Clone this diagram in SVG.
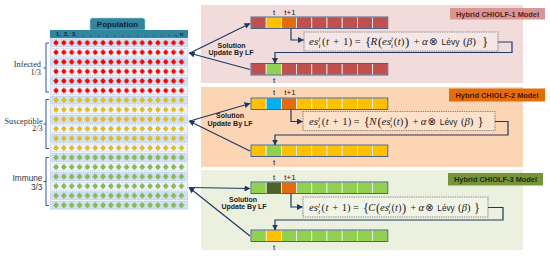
<svg xmlns="http://www.w3.org/2000/svg" width="550" height="256" viewBox="0 0 550 256">
<style>
.sans{font-family:"Liberation Sans",Arial,sans-serif}
.serif{font-family:"Liberation Serif","Times New Roman",serif}
.rowA{fill:#d3e1f3;stroke:#8eaad6;stroke-width:0.6;stroke-dasharray:1 0.8}
.rowB{fill:#f1f5fb;stroke:#8eaad6;stroke-width:0.6;stroke-dasharray:1 0.8}
.brace{fill:none;stroke:#2f5496;stroke-width:1}
.lbl{font-size:8.3px;fill:#333;text-anchor:end}
.tl{font-family:"Liberation Sans",Arial,sans-serif;font-size:8px;fill:#222;text-anchor:middle}
.cell{stroke:#eef2f8;stroke-width:0.8}
.rowbox{fill:none;stroke:#3b5480;stroke-width:0.9}
.R{fill:#c0504d}.Y{fill:#ffc000}.O{fill:#e46c0a}.G{fill:#92d050}.B{fill:#00b0f0}.D{fill:#4f6228}
.conn{fill:none;stroke:#1f3864;stroke-width:1.2}
.fbox{fill:#ffffff;fill-opacity:0.3;stroke:#8c8c8c;stroke-width:1.1;stroke-dasharray:1.4 0.9}
.fm{font-family:"Liberation Serif","DejaVu Serif",serif;font-style:italic;font-size:11px;fill:#222}
.up{font-style:normal}
.sm{font-size:7px}
.bp{font-style:normal;font-size:13px}
.ot{font-family:"DejaVu Sans",sans-serif;font-style:normal;font-size:10px}
.lv{font-family:"Liberation Sans",Arial,sans-serif;font-style:normal;font-size:8.5px}
.sol{font-family:"Liberation Sans",Arial,sans-serif;font-size:7px;font-weight:bold;fill:#1a1a1a;text-anchor:middle}
.tag{font-family:"Liberation Sans",Arial,sans-serif;font-size:7px;font-weight:bold;text-anchor:middle}
</style>
<defs>
<marker id="ah" viewBox="0 0 6 6" refX="5.5" refY="3" markerWidth="6" markerHeight="6" markerUnits="userSpaceOnUse" orient="auto">
<path d="M0,0 L6,3 L0,6 Z" fill="#1f3864"/>
</marker>
<pattern id="pR" patternUnits="userSpaceOnUse" x="52.08" y="38" width="7.84" height="9.556">
<path d="M3.92,2 L6.7,4.78 L3.92,7.56 L1.14,4.78 Z" fill="#d40000"/>
<circle cx="3.92" cy="4.78" r="1.95" fill="#ff0000"/>
</pattern>
<pattern id="pS" patternUnits="userSpaceOnUse" x="52.08" y="38" width="7.84" height="9.556">
<path d="M3.92,2 L6.7,4.78 L3.92,7.56 L1.14,4.78 Z" fill="#8fb550"/>
<circle cx="3.92" cy="4.78" r="1.95" fill="#f5b800"/>
</pattern>
<pattern id="pI" patternUnits="userSpaceOnUse" x="52.08" y="38" width="7.84" height="9.556">
<path d="M3.92,2 L6.7,4.78 L3.92,7.56 L1.14,4.78 Z" fill="#5b8f3a"/>
<circle cx="3.92" cy="4.78" r="1.95" fill="#86c04a"/>
</pattern>
</defs>
<rect width="550" height="256" fill="#ffffff"/>

<g id="population">
<path d="M90 30 V20.5 Q90 18 92.5 18 H142.5 Q145 18 145 20.5 V30 Z" fill="#31859c" stroke="#a5d5e2" stroke-width="0.6"/>
<text class="sans" x="117.5" y="27.3" font-size="8" font-weight="bold" fill="#10253f" text-anchor="middle">Population</text>
<rect x="50" y="30" width="138" height="8" fill="#31859c"/>
<text class="sans" y="36" font-size="5.5" font-weight="bold" fill="#10253f"><tspan x="56">1,</tspan><tspan x="64">2,</tspan><tspan x="72">3,</tspan><tspan x="82 90 98 106 114 122 129 137 145 153 161 168">............</tspan><tspan x="174">.,</tspan><tspan x="180">n</tspan></text>
<rect class="rowA" x="50.5" y="38.8" width="137" height="8"/>
<rect class="rowB" x="50.5" y="48.36" width="137" height="8"/>
<rect class="rowA" x="50.5" y="57.91" width="137" height="8"/>
<rect class="rowB" x="50.5" y="67.47" width="137" height="8"/>
<rect class="rowA" x="50.5" y="77.02" width="137" height="8"/>
<rect class="rowB" x="50.5" y="86.58" width="137" height="8"/>
<rect class="rowA" x="50.5" y="96.13" width="137" height="8"/>
<rect class="rowB" x="50.5" y="105.69" width="137" height="8"/>
<rect class="rowA" x="50.5" y="115.24" width="137" height="8"/>
<rect class="rowB" x="50.5" y="124.8" width="137" height="8"/>
<rect class="rowA" x="50.5" y="134.36" width="137" height="8"/>
<rect class="rowB" x="50.5" y="143.91" width="137" height="8"/>
<rect class="rowA" x="50.5" y="153.47" width="137" height="8"/>
<rect class="rowB" x="50.5" y="163.02" width="137" height="8"/>
<rect class="rowA" x="50.5" y="172.58" width="137" height="8"/>
<rect class="rowB" x="50.5" y="182.13" width="137" height="8"/>
<rect class="rowA" x="50.5" y="191.69" width="137" height="8"/>
<rect class="rowA" x="50.5" y="201.24" width="137" height="8"/>
<rect x="52.08" y="38" width="133.3" height="57.33" fill="url(#pR)"/>
<rect x="52.08" y="95.33" width="133.3" height="57.34" fill="url(#pS)"/>
<rect x="52.08" y="152.67" width="133.3" height="57.33" fill="url(#pI)"/>
</g>

<g id="group-infected">
<path class="brace" d="M49 43 H46 V68 H43.5 M46 68 V92 H49"/>
<text class="serif lbl" x="41" y="66.5">Infected</text>
<text class="serif lbl" x="41" y="75">1/3</text>
</g>
<g id="group-susceptible">
<path class="brace" d="M49 99.5 H46 V124 H43.5 M46 124 V148.5 H49"/>
<text class="serif lbl" x="42.7" y="123.5">Susceptible</text>
<text class="serif lbl" x="42.7" y="131">2/3</text>
</g>
<g id="group-immune">
<path class="brace" d="M49 157.5 H46 V181.5 H43.5 M46 181.5 V205.5 H49"/>
<text class="sans lbl" x="42.5" y="180.5" font-size="7.8">Immune</text>
<text class="sans lbl" x="42.5" y="189.5" font-size="7.8">3/3</text>
</g>

<g id="panel1">
<rect x="201" y="5" width="322" height="78" fill="#f2dcdb"/>
<rect x="450" y="8" width="95" height="11.5" fill="#d99694"/>
<text class="tag" x="497.5" y="16.6" fill="#5a1e1e" textLength="83" lengthAdjust="spacingAndGlyphs">Hybrid CHIOLF-1 Model</text>
<text class="tl" x="274" y="15">t</text>
<text class="tl" x="290" y="15">t+1</text>
<g transform="translate(251,17)">
<rect class="cell R" x="0" width="15.2" height="11.5"/><rect class="cell Y" x="15.2" width="15.2" height="11.5"/><rect class="cell O" x="30.4" width="15.2" height="11.5"/><rect class="cell R" x="45.6" width="15.2" height="11.5"/><rect class="cell R" x="60.8" width="15.2" height="11.5"/><rect class="cell R" x="76" width="15.2" height="11.5"/><rect class="cell R" x="91.2" width="15.2" height="11.5"/><rect class="cell R" x="106.4" width="15.2" height="11.5"/><rect class="cell R" x="121.6" width="15.2" height="11.5"/>
<rect class="rowbox" width="136.8" height="11.5"/>
</g>
<g transform="translate(251,63.5)">
<rect class="cell R" x="0" width="15.2" height="11.5"/><rect class="cell G" x="15.2" width="15.2" height="11.5"/><rect class="cell R" x="30.4" width="15.2" height="11.5"/><rect class="cell R" x="45.6" width="15.2" height="11.5"/><rect class="cell R" x="60.8" width="15.2" height="11.5"/><rect class="cell R" x="76" width="15.2" height="11.5"/><rect class="cell R" x="91.2" width="15.2" height="11.5"/><rect class="cell R" x="106.4" width="15.2" height="11.5"/><rect class="cell R" x="121.6" width="15.2" height="11.5"/>
<rect class="rowbox" width="136.8" height="11.5"/>
</g>
<text class="tl" x="274" y="82.5">t</text>
<rect class="fbox" x="304" y="32" width="194" height="19"/>
<text class="fm" transform="translate(0,45)"><tspan x="309" y="0">es</tspan><tspan class="sm" x="318.5" y="-4.5">j</tspan><tspan class="sm" x="318.5" y="2.5">i</tspan><tspan class="up" x="322" y="0">(</tspan><tspan x="326">t</tspan><tspan class="up" x="333">+</tspan><tspan class="up" x="343">1)</tspan><tspan class="up" x="354.5">=</tspan><tspan class="bp" x="365" y="1">{</tspan><tspan x="370.5" y="0">R</tspan><tspan class="bp" x="378" y="1">(</tspan><tspan x="382" y="0">es</tspan><tspan class="sm" x="391" y="-4.5">j</tspan><tspan class="sm" x="391" y="2.5">i</tspan><tspan class="up" x="394" y="0">(</tspan><tspan>t</tspan><tspan class="up">)</tspan><tspan class="bp" x="405" y="1">)</tspan><tspan class="up" x="413.5" y="0">+</tspan><tspan x="422">α</tspan><tspan class="ot" x="429">⊗</tspan><tspan class="lv" x="441.5">Lévy</tspan><tspan class="up" x="463">(</tspan><tspan>β</tspan><tspan class="up">)</tspan><tspan class="bp" x="482" y="1">}</tspan></text>
<text class="sol" x="231.5" y="47.5">Solution</text>
<text class="sol" x="231" y="54.5">Update By LF</text>
</g>

<g id="panel2">
<rect x="201" y="87" width="322" height="80" fill="#fcd5b4"/>
<rect x="449" y="88.5" width="96" height="13" fill="#e46c0a"/>
<text class="tag" x="497" y="97.6" fill="#3f1a00" textLength="83" lengthAdjust="spacingAndGlyphs">Hybrid CHIOLF-2 Model</text>
<text class="tl" x="274" y="95">t</text>
<text class="tl" x="290" y="95">t+1</text>
<g transform="translate(251,98)">
<rect class="cell Y" x="0" width="15.2" height="11.5"/><rect class="cell B" x="15.2" width="15.2" height="11.5"/><rect class="cell O" x="30.4" width="15.2" height="11.5"/><rect class="cell Y" x="45.6" width="15.2" height="11.5"/><rect class="cell Y" x="60.8" width="15.2" height="11.5"/><rect class="cell Y" x="76" width="15.2" height="11.5"/><rect class="cell Y" x="91.2" width="15.2" height="11.5"/><rect class="cell Y" x="106.4" width="15.2" height="11.5"/><rect class="cell Y" x="121.6" width="15.2" height="11.5"/>
<rect class="rowbox" width="136.8" height="11.5"/>
</g>
<g transform="translate(251,145)">
<rect class="cell Y" x="0" width="15.2" height="11.5"/><rect class="cell G" x="15.2" width="15.2" height="11.5"/><rect class="cell Y" x="30.4" width="15.2" height="11.5"/><rect class="cell Y" x="45.6" width="15.2" height="11.5"/><rect class="cell Y" x="60.8" width="15.2" height="11.5"/><rect class="cell Y" x="76" width="15.2" height="11.5"/><rect class="cell Y" x="91.2" width="15.2" height="11.5"/><rect class="cell Y" x="106.4" width="15.2" height="11.5"/><rect class="cell Y" x="121.6" width="15.2" height="11.5"/>
<rect class="rowbox" width="136.8" height="11.5"/>
</g>
<text class="tl" x="274" y="165">t</text>
<rect class="fbox" x="303" y="111.5" width="192" height="19"/>
<text class="fm" transform="translate(309,125) scale(0.98,1) translate(-309,0)"><tspan x="309" y="0">es</tspan><tspan class="sm" x="318.5" y="-4.5">j</tspan><tspan class="sm" x="318.5" y="2.5">i</tspan><tspan class="up" x="322" y="0">(</tspan><tspan x="326">t</tspan><tspan class="up" x="333">+</tspan><tspan class="up" x="343">1)</tspan><tspan class="up" x="354.5">=</tspan><tspan class="bp" x="365" y="1">{</tspan><tspan x="370.5" y="0">N</tspan><tspan class="bp" x="379" y="1">(</tspan><tspan x="383" y="0">es</tspan><tspan class="sm" x="392" y="-4.5">j</tspan><tspan class="sm" x="392" y="2.5">i</tspan><tspan class="up" x="395" y="0">(</tspan><tspan>t</tspan><tspan class="up">)</tspan><tspan class="bp" x="406" y="1">)</tspan><tspan class="up" x="414.5" y="0">+</tspan><tspan x="423">α</tspan><tspan class="ot" x="430">⊗</tspan><tspan class="lv" x="442.5">Lévy</tspan><tspan class="up" x="464">(</tspan><tspan>β</tspan><tspan class="up">)</tspan><tspan class="bp" x="481" y="1">}</tspan></text>
<text class="sol" x="230" y="118.3">Solution</text>
<text class="sol" x="230" y="125.5">Update By LF</text>
</g>

<g id="panel3">
<rect x="201" y="170" width="322" height="80" fill="#ebf1de"/>
<rect x="448" y="173" width="95" height="12.5" fill="#77933c"/>
<text class="tag" x="495.5" y="181.8" fill="#1d2b0b" textLength="83" lengthAdjust="spacingAndGlyphs">Hybrid CHIOLF-3 Model</text>
<text class="tl" x="274" y="180">t</text>
<text class="tl" x="290" y="180">t+1</text>
<g transform="translate(251,182)">
<rect class="cell G" x="0" width="15.2" height="11.5"/><rect class="cell D" x="15.2" width="15.2" height="11.5"/><rect class="cell O" x="30.4" width="15.2" height="11.5"/><rect class="cell G" x="45.6" width="15.2" height="11.5"/><rect class="cell G" x="60.8" width="15.2" height="11.5"/><rect class="cell G" x="76" width="15.2" height="11.5"/><rect class="cell G" x="91.2" width="15.2" height="11.5"/><rect class="cell G" x="106.4" width="15.2" height="11.5"/><rect class="cell G" x="121.6" width="15.2" height="11.5"/>
<rect class="rowbox" width="136.8" height="11.5"/>
</g>
<g transform="translate(251,230)">
<rect class="cell G" x="0" width="15.2" height="11.5"/><rect class="cell Y" x="15.2" width="15.2" height="11.5"/><rect class="cell G" x="30.4" width="15.2" height="11.5"/><rect class="cell G" x="45.6" width="15.2" height="11.5"/><rect class="cell G" x="60.8" width="15.2" height="11.5"/><rect class="cell G" x="76" width="15.2" height="11.5"/><rect class="cell G" x="91.2" width="15.2" height="11.5"/><rect class="cell G" x="106.4" width="15.2" height="11.5"/><rect class="cell G" x="121.6" width="15.2" height="11.5"/>
<rect class="rowbox" width="136.8" height="11.5"/>
</g>
<text class="tl" x="274" y="250">t</text>
<rect class="fbox" x="303" y="197" width="185" height="20"/>
<text class="fm" transform="translate(309,211) scale(0.965,1) translate(-309,0)"><tspan x="309" y="0">es</tspan><tspan class="sm" x="318.5" y="-4.5">j</tspan><tspan class="sm" x="318.5" y="2.5">i</tspan><tspan class="up" x="322" y="0">(</tspan><tspan x="326">t</tspan><tspan class="up" x="333">+</tspan><tspan class="up" x="343">1)</tspan><tspan class="up" x="354.5">=</tspan><tspan class="bp" x="365" y="1">{</tspan><tspan x="370.5" y="0">C</tspan><tspan class="bp" x="378.5" y="1">(</tspan><tspan x="382.5" y="0">es</tspan><tspan class="sm" x="391.5" y="-4.5">j</tspan><tspan class="sm" x="391.5" y="2.5">i</tspan><tspan class="up" x="394.5" y="0">(</tspan><tspan>t</tspan><tspan class="up">)</tspan><tspan class="bp" x="405.5" y="1">)</tspan><tspan class="up" x="414" y="0">+</tspan><tspan x="422.5">α</tspan><tspan class="ot" x="429.5">⊗</tspan><tspan class="lv" x="442">Lévy</tspan><tspan class="up" x="463.5">(</tspan><tspan>β</tspan><tspan class="up">)</tspan><tspan class="bp" x="480" y="1">}</tspan></text>
<text class="sol" x="243" y="201.7" font-weight="normal">Solution</text>
<text class="sol" x="244" y="209.3" font-weight="normal">Update By LF</text>
</g>

<g id="connectors">
<path class="conn" d="M190 53 L250 23.5" marker-end="url(#ah)"/>
<path class="conn" d="M250 69.5 L189 53" marker-end="url(#ah)"/>
<path class="conn" d="M291 28.5 V40 H303.5" marker-end="url(#ah)"/>
<path class="conn" d="M498 42 H512 V52.5 H275 V63.5" marker-end="url(#ah)"/>
<path class="conn" d="M190 121 L250 103.5" marker-end="url(#ah)"/>
<path class="conn" d="M250 151 L189 121" marker-end="url(#ah)"/>
<path class="conn" d="M291 109.5 V121.5 H302.5" marker-end="url(#ah)"/>
<path class="conn" d="M495 121.5 H508 V135 H275 V145" marker-end="url(#ah)"/>
<path class="conn" d="M190 187.5 L250 188.5" marker-end="url(#ah)"/>
<path class="conn" d="M250 236 L189 187.5" marker-end="url(#ah)"/>
<path class="conn" d="M291 193.5 V207 H302.5" marker-end="url(#ah)"/>
<path class="conn" d="M488 207.5 H503 V220 H275 V230" marker-end="url(#ah)"/>
</g>
</svg>
